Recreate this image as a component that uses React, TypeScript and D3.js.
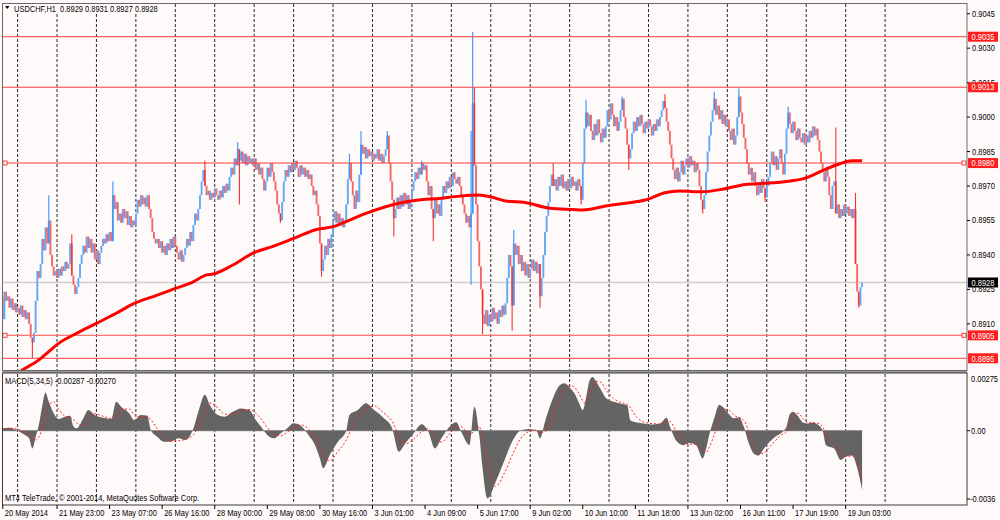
import React from 'react';
import * as d3 from 'd3';

// USDCHF H1 closes, in pips above 0.8900 (one row = 24 bars)
const firstOpen = 22;
const closes = [
  12, 24, 20, 22, 17, 21, 16, 19, 15, 17, 14, 18, 13, 16, 12, 15, 10, 4, 2, 6, 20, 33, 30, 36,
  47, 42, 52, 45, 55, 40, 35, 31, 33, 30, 34, 31, 35, 33, 37, 34, 36, 45, 31, 27, 23, 26, 30, 36,
  40, 44, 41, 48, 43, 47, 41, 45, 38, 42, 36, 41, 44, 47, 45, 49, 46, 50, 46, 66, 60, 63, 55, 58,
  54, 60, 56, 59, 53, 57, 52, 55, 53, 58, 64, 61, 66, 62, 65, 61, 66, 60, 56, 50, 47, 45, 47, 43,
  46, 41, 44, 40, 45, 42, 47, 43, 48, 44, 41, 38, 42, 37, 40, 43, 47, 44, 50, 46, 53, 58, 55, 60,
  66, 72, 77, 70, 66, 68, 64, 67, 65, 69, 66, 64, 68, 65, 70, 67, 71, 68, 74, 78, 75, 82, 79, 86,
  81, 85, 80, 84, 79, 83, 80, 82, 79, 82, 77, 80, 75, 78, 73, 68, 72, 78, 74, 80, 76, 72, 68, 62,
  58, 55, 63, 72, 77, 74, 79, 76, 80, 77, 81, 78, 74, 79, 75, 78, 74, 77, 73, 75, 70, 66, 68, 62,
  57, 45, 33, 38, 44, 40, 47, 43, 49, 55, 59, 54, 58, 53, 56, 52, 55, 62, 73, 80, 72, 66, 60, 68,
  63, 75, 88, 84, 87, 82, 86, 83, 85, 81, 84, 82, 86, 81, 84, 80, 83, 86, 92, 80, 72, 64, 56, 60,
  65, 60, 66, 61, 67, 62, 66, 60, 64, 68, 72, 76, 73, 78, 75, 80, 77, 79, 72, 66, 70, 60, 56, 64,
  58, 62, 57, 64, 70, 67, 72, 69, 74, 70, 76, 73, 71, 74, 70, 66, 62, 58, 54, 57, 52, 58, 106, 79,
  62, 46, 35, 25, 14, 10, 16, 9, 14, 11, 17, 12, 15, 10, 16, 13, 18, 14, 19, 30, 40, 35, 18, 45,
  40, 44, 36, 40, 33, 37, 31, 36, 30, 34, 38, 33, 37, 32, 36, 22, 30, 40, 50, 57, 63, 70, 75, 70,
  73, 68, 74, 70, 75, 69, 72, 68, 73, 69, 74, 70, 72, 68, 73, 70, 64, 80, 95, 102, 96, 101, 94, 90,
  97, 92, 99, 93, 89, 95, 91, 96, 103, 99, 106, 101, 96, 100, 94, 98, 103, 108, 100, 95, 88, 82, 86, 93,
  98, 94, 100, 96, 101, 97, 93, 98, 95, 99, 96, 92, 97, 94, 99, 96, 100, 103, 107, 104, 98, 94, 88, 82,
  77, 73, 78, 72, 76, 81, 75, 79, 82, 78, 83, 79, 81, 76, 80, 77, 70, 64, 60, 66, 76, 85, 92, 98,
  103, 108, 101, 105, 99, 103, 97, 101, 96, 99, 94, 90, 95, 88, 92, 100, 109, 102, 97, 91, 86, 80, 75, 78,
  72, 76, 70, 66, 71, 67, 73, 69, 65, 70, 74, 80, 85, 79, 83, 77, 82, 86, 80, 75, 84, 95, 102, 97,
  93, 98, 94, 90, 95, 91, 89, 93, 88, 92, 89, 94, 91, 96, 92, 95, 90, 85, 80, 76, 72, 78, 74, 66,
  60, 70, 72, 58, 62, 56, 60, 57, 62, 58, 61, 57, 60, 56, 60, 36, 24, 18, 26, 28,
];

// bars whose wicks reach past the body (pips above 0.8900)
const wicks: { bar: number; high?: number; low?: number }[] = [
  { bar: 18, low: -5 }, { bar: 28, high: 66 }, { bar: 42, high: 49 }, { bar: 67, high: 72 },
  { bar: 123, high: 81 }, { bar: 143, high: 89 }, { bar: 144, low: 62 }, { bar: 169, low: 54 },
  { bar: 194, low: 30.5 }, { bar: 211, high: 84 }, { bar: 218, high: 94 }, { bar: 234, high: 94 },
  { bar: 238, low: 48 }, { bar: 255, high: 81 }, { bar: 262, low: 46 }, { bar: 285, high: 94, low: 27 },
  { bar: 286, high: 137, low: 58 }, { bar: 287, high: 113 }, { bar: 292, low: 5.4 }, { bar: 310, low: 7 },
  { bar: 311, high: 51 }, { bar: 327, low: 17 }, { bar: 335, high: 80 }, { bar: 352, low: 62 },
  { bar: 355, high: 107.5 }, { bar: 377, high: 109 }, { bar: 381, low: 77 }, { bar: 403, high: 110 },
  { bar: 426, low: 58 }, { bar: 433, high: 111 }, { bar: 448, high: 112.5 }, { bar: 464, low: 63 },
  { bar: 478, high: 104.5 }, { bar: 507, high: 95.5 }, { bar: 519, high: 67 }, { bar: 521, low: 17 },
];

// moving average, pips above 0.8900
const maBars = [0, 12, 22, 29, 34, 45, 57, 69, 80, 94, 105, 116, 124, 128, 140, 152, 164, 177, 191, 201, 209, 221, 233, 241, 253, 266, 278, 289, 296, 306, 318, 333, 347, 353, 367, 379, 391, 403, 412, 426, 438, 452, 464, 476, 488, 501, 509, 517, 523];
const maValues = [-16, -10.1, -5.7, -1.4, 1.5, 5.9, 10.2, 14.6, 18.9, 22.5, 25.4, 28.3, 31.3, 31.7, 35.6, 40.7, 43.6, 47.2, 51.1, 52.3, 54.5, 58.1, 61, 62.5, 63.9, 64.6, 65.6, 66.1, 65.4, 63.5, 62.8, 60.3, 59.8, 59.6, 61.3, 62.5, 63.9, 67.1, 67.8, 67.5, 68.6, 70.7, 71.2, 71.9, 73.3, 77.4, 79.6, 81, 81];

// MACD(5,34,5), in units of 0.0001
const macdBars = [0, 4, 8, 11, 14, 16, 18, 20, 22, 24, 26, 28, 31, 34, 38, 41, 43, 45, 49, 52, 56, 61, 66, 69, 72, 77, 80, 84, 88, 90, 94, 98, 102, 107, 111, 116, 119, 123, 126, 131, 135, 140, 145, 150, 154, 158, 161, 165, 169, 173, 177, 182, 186, 190, 193, 195, 199, 204, 209, 211, 216, 221, 226, 232, 237, 241, 245, 250, 255, 259, 263, 267, 272, 276, 279, 284, 287, 290, 292, 295, 300, 305, 310, 315, 320, 325, 327, 330, 334, 336, 339, 342, 345, 348, 351, 353, 355, 357, 359, 361, 364, 367, 372, 377, 380, 382, 386, 390, 395, 400, 404, 406, 408, 410, 414, 418, 422, 426, 428, 430, 433, 436, 439, 442, 445, 448, 451, 454, 457, 460, 463, 466, 470, 474, 477, 479, 481, 484, 487, 490, 493, 496, 499, 501, 506, 510, 513, 517, 520, 523];
const macdMain = [1.1, 1.5, 0.5, -0.8, -2.3, -3.7, -8.6, -3, 3, 12, 18.4, 14, 8.4, 5.7, 6.8, 7.3, 2, 1.1, 6, 10, 7.6, 6.3, 5.7, 14, 11.6, 8.4, 5.2, 7.6, 7.3, 0.5, -2.9, -5.3, -5.3, -3.7, -4.5, 1.1, 9.2, 17.5, 12.5, 7.6, 6.8, 9.2, 10.8, 10, 5.2, 1.1, -2.1, -3.7, -1.3, 1.1, 3.6, 2, -2.1, -6.9, -13.4, -18.2, -11.8, -5.3, 0, 7.6, 10, 13.3, 10, 6, 1.1, -10.2, -6.1, -1.3, 3.1, -0.5, -8.6, -3.7, 2, 4.1, -0.5, -6.9, 11.6, -2.1, -18.2, -32.8, -24.7, -15, -5.3, 0, 0.8, -0.2, -3.7, 4.4, 14, 18, 22, 23, 21, 18, 13, 10, 16, 24, 26, 24, 20, 16, 14, 13, 12.5, 5, 4, 3.5, 3, 3.5, 6.3, 2, -2, -5, -7, -6, -7, -13.4, -9, -2, 6, 12.5, 11, 8, 6, 6.5, 2, -6, -11, -12, -9, -6, -3, -1, 2, 8, 9.2, 7, 4, 3.5, 4, 3, 0, -7, -8.6, -14.2, -12.6, -12, -18, -28.7];
const macdSignal = [0.8, 1.2, 1, 0.3, -1, -2, -3.5, -4.5, -3, 1, 7, 12.5, 14, 10.5, 7, 6.5, 5.5, 3.8, 2.5, 5.5, 8.3, 7, 6, 7.5, 10.5, 10.5, 7.8, 6.5, 7, 5.5, 1, -3, -5, -4.8, -4.2, -2, 2, 9, 13.5, 11, 8, 8, 9.8, 10.3, 8.5, 5, 1.5, -1.8, -2.5, -0.8, 1.5, 2.8, 0.8, -3, -7.5, -11.5, -14.5, -10, -4.5, -1, 6, 10.5, 12, 8.5, 4.5, -2.5, -6.5, -4, -0.5, 1, -3, -5.5, -1.5, 2, 2, -2.5, 0.5, 2, -4, -15, -27, -21, -12, -4, -0.5, 0.3, -0.8, -0.5, 6, 10.5, 16, 20, 22, 21, 17.5, 14.5, 13, 16.5, 21, 24, 23.5, 20, 15.5, 13.5, 13, 11, 6.5, 4.2, 3.5, 3.2, 4.5, 4.5, 2.5, -0.5, -5, -6.5, -6.5, -9, -10.5, -8, -2, 5, 10.5, 10, 7.5, 6.5, 5, 0, -6, -10.5, -11, -8.5, -5, -2, -0.5, 3.5, 7, 8.5, 6, 4, 3.8, 3.6, 2, -2, -7, -10, -12.5, -12.2, -15, -25];

const priceTicks = [0.9045, 0.903, 0.9015, 0.9, 0.8985, 0.897, 0.8955, 0.894, 0.8925, 0.891];
const levels = [0.9035, 0.9013, 0.898, 0.8905, 0.8895];
const selectedLevels = [0.898, 0.8905];
const bid = 0.8928;

const timeBars = [0, 33, 65, 97, 129, 161, 193, 225, 257, 289, 321, 353, 385, 417, 449, 481, 513];
const timeLabels = ['20 May 2014', '21 May 23:00', '23 May 07:00', '26 May 16:00', '28 May 00:00', '29 May 08:00', '30 May 16:00', '3 Jun 01:00', '4 Jun 09:00', '5 Jun 17:00', '9 Jun 02:00', '10 Jun 10:00', '11 Jun 18:00', '13 Jun 02:00', '16 Jun 11:00', '17 Jun 19:00', '19 Jun 03:00'];

const FONT = "'Liberation Sans', Arial, Helvetica, sans-serif";
const BG = '#fffafa';
const UP_BODY = '#5eaaf9';
const UP_WICK = '#3393fb';
const DN_BODY = '#f56666';
const DN_WICK = '#f53030';
const LEVEL = '#ff3d3d';

const px = (p: number) => 0.89 + p / 10000;

function Txt({ x, y, fill = '#000', children }: { x: number; y: number; fill?: string; children: React.ReactNode }) {
  return (
    <text transform={`translate(${x},${y}) scale(0.88,1)`} fontSize={8.5} fill={fill}
      fontFamily={FONT} style={{ whiteSpace: 'pre' }}>
      {children}
    </text>
  );
}

export default function App() {
  const R = 967; // right edge of the panels
  const x = d3.scaleLinear().domain([0, 540]).range([2.8, 2.8 + 540 * 1.643]);
  const y = d3.scaleLinear().domain([0.8895, 0.9035]).range([358.3, 36.7]);
  const ym = d3.scaleLinear().domain([-0.0036, 0.00275]).range([505, 374]);

  const maLine = d3.line<number>()
    .x((_, k) => x(maBars[k]))
    .y(d => y(px(d)))
    .curve(d3.curveMonotoneX)(maValues) || '';

  const histArea = d3.area<number>()
    .x((_, k) => x(macdBars[k]))
    .y0(ym(0))
    .y1(d => ym(d / 10000))
    .curve(d3.curveMonotoneX)(macdMain) || '';

  const signalLine = d3.line<number>()
    .x((_, k) => x(macdBars[k]))
    .y(d => ym(d / 10000))
    .curve(d3.curveMonotoneX)(macdSignal) || '';

  const gridBars = d3.range(9, 540, 24);

  return (
    <svg width={1000} height={520} style={{ position: 'absolute', left: 0, top: 0, display: 'block' }}>
      <defs>
        <clipPath id="pricePanel"><rect x={3} y={4} width={R - 3} height={366} /></clipPath>
        <clipPath id="macdPanel"><rect x={3} y={374} width={R - 3} height={130} /></clipPath>
      </defs>
      <rect x={0} y={0} width={1000} height={520} fill={BG} />

      {/* vertical grid */}
      {gridBars.map(b => (
        <g key={b}>
          <line x1={x(b)} x2={x(b)} y1={4} y2={370} stroke="#111" strokeDasharray="3,2" strokeWidth={0.9} />
          <line x1={x(b)} x2={x(b)} y1={374} y2={504} stroke="#111" strokeDasharray="3,2" strokeWidth={0.9} />
        </g>
      ))}

      <g clipPath="url(#pricePanel)">
        {/* bid line */}
        <line x1={3} x2={R} y1={y(bid)} y2={y(bid)} stroke="#cfcfcf" strokeWidth={1.3} />

        {/* candles */}
        {closes.map((c, i) => {
          const o = i === 0 ? firstOpen : closes[i - 1];
          const up = c >= o;
          const ya = y(px(o));
          const yb = y(px(c));
          const top = Math.min(ya, yb);
          const bot = Math.max(ya, yb, top + 1);
          return <line key={i} x1={x(i)} x2={x(i)} y1={top} y2={bot} stroke={up ? UP_BODY : DN_BODY} strokeWidth={1.9} />;
        })}
        {wicks.map(w => {
          const o = w.bar === 0 ? firstOpen : closes[w.bar - 1];
          const c = closes[w.bar];
          const up = c >= o;
          const hi = w.high ?? Math.max(o, c);
          const lo = w.low ?? Math.min(o, c);
          return <line key={w.bar} x1={x(w.bar)} x2={x(w.bar)} y1={y(px(hi))} y2={y(px(lo))} stroke={up ? UP_WICK : DN_WICK} strokeWidth={1.1} />;
        })}

        {/* horizontal levels */}
        {levels.map(l => (
          <line key={l} x1={3} x2={R} y1={y(l)} y2={y(l)}
            stroke={l === 0.8905 ? '#ff7272' : LEVEL} strokeWidth={l === 0.8905 ? 1.4 : 1} />
        ))}
        {selectedLevels.map(l => (
          <g key={l}>
            <rect x={3} y={y(l) - 2} width={4} height={4} fill={BG} stroke={LEVEL} strokeWidth={1} />
            <rect x={R - 5} y={y(l) - 2} width={4} height={4} fill={BG} stroke={LEVEL} strokeWidth={1} />
          </g>
        ))}

        {/* moving average */}
        <path d={maLine} fill="none" stroke="#ff0000" strokeWidth={3} strokeLinejoin="round" />
      </g>

      {/* MACD window */}
      <g clipPath="url(#macdPanel)">
        <line x1={x(0)} x2={x(closes.length - 1)} y1={ym(0)} y2={ym(0)} stroke="#8a8a8a" strokeWidth={1} />
        <path d={histArea} fill="#646464" />
        <path d={signalLine} fill="none" stroke="#ff2020" strokeWidth={1} strokeDasharray="2,2" />
      </g>

      {/* panel frames */}
      <rect x={2.5} y={3.5} width={R - 2.5} height={367} fill="none" stroke="#6a6a6a" strokeWidth={1} />
      <rect x={2.5} y={373} width={R - 2.5} height={132} fill="none" stroke="#3a3a3a" strokeWidth={1} />
      <line x1={2.5} x2={R} y1={372} y2={372} stroke="#3a3a3a" strokeWidth={1} />

      {/* price axis */}
      {priceTicks.map(p => (
        <g key={p}>
          <line x1={R} x2={R + 3} y1={y(p)} y2={y(p)} stroke="#000" />
          <Txt x={972} y={y(p) + 3}>{p.toFixed(4)}</Txt>
        </g>
      ))}
      {levels.map(l => (
        <g key={l}>
          <rect x={968} y={y(l) - 5} width={30} height={10} fill="#ff1e1e" />
          <Txt x={971.5} y={y(l) + 3.2} fill="#fff">{l.toFixed(4)}</Txt>
        </g>
      ))}
      <rect x={968} y={y(bid) - 5} width={30} height={10} fill="#000" />
      <Txt x={971.5} y={y(bid) + 3.2} fill="#fff">{bid.toFixed(4)}</Txt>

      {/* MACD axis */}
      <Txt x={971} y={382}>0.00275</Txt>
      <line x1={R} x2={R + 3} y1={ym(0)} y2={ym(0)} stroke="#000" />
      <Txt x={971} y={ym(0) + 3}>0.00</Txt>
      <line x1={R} x2={R + 3} y1={499} y2={499} stroke="#000" />
      <Txt x={970} y={502}>-0.0036</Txt>

      {/* time axis */}
      {timeBars.map((b, k) => (
        <g key={b}>
          <line x1={x(b)} x2={x(b)} y1={505} y2={509} stroke="#000" />
          <Txt x={x(b) + 2} y={516}>{timeLabels[k]}</Txt>
        </g>
      ))}

      {/* captions */}
      <rect x={4} y={4} width={165} height={10} fill={BG} />
      <polygon points="5,6 9.5,6 7.25,9" fill="#000" />
      <Txt x={14} y={11.5}>{'USDCHF,H1  0.8929 0.8931 0.8927 0.8928'}</Txt>
      <Txt x={5} y={384}>{'MACD(5,34,5) -0.00287 -0.00270'}</Txt>
      <Txt x={5} y={501}>{'MT4 TeleTrade, © 2001-2014, MetaQuotes Software Corp.'}</Txt>
    </svg>
  );
}
